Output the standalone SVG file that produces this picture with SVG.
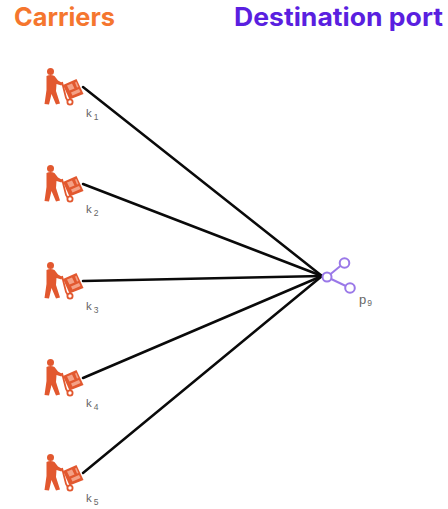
<svg xmlns="http://www.w3.org/2000/svg" width="448" height="509" viewBox="0 0 448 509">
<style>
.title{font-family:"Inter","Liberation Sans",sans-serif;font-weight:700;font-size:25.500px}
.lbl{font-family:"Liberation Sans",sans-serif;font-size:11.500px;fill:#666}
.sub{font-size:8.500px}
.edge{stroke:#0a0a0a;stroke-width:2.500;fill:none;stroke-linecap:round}
.port{stroke:#9a78e8;stroke-width:2;fill:#fff}
</style>
<defs>
<g id="carrier">
<circle cx="50.500" cy="71.500" r="3.500" fill="#e2582f"/>
<path d="M46.500 76 Q50.500 74 54.500 76 L58 80.500 L62.500 83 L61.500 85.500 L56.500 84 L56 91 L60 103.500 L56 104.500 L51.500 94 L49 104.500 L44.500 104 L46.500 90 Z" fill="#e2582f"/>
<path d="M62 82 L66 98 L69 103" fill="none" stroke="#e2582f" stroke-width="1.800"/>
<circle cx="70" cy="102" r="2.600" fill="#fff" stroke="#e2582f" stroke-width="1.800"/>
<path d="M63 85 L76.500 79 L83.500 94 L69.500 99.500 Z" fill="#e2582f"/>
<path d="M67 85.500 L72 83.500 L74.500 88.500 L69.500 90.500 Z M75 82.500 L76.500 82 L78.500 87 L77 87.500 Z M71 92.500 L79 89 L80.500 92 L72.500 95.500 Z" fill="#f4a186"/>
</g>
</defs>
<g id="titles">
<text class="title" x="14" y="26" fill="#f5762e" textLength="101" lengthAdjust="spacingAndGlyphs">Carriers</text>
<text class="title" x="234" y="26" fill="#5a1fe0" textLength="209" lengthAdjust="spacingAndGlyphs">Destination port</text>
</g>
<g id="connectors">
<line class="edge" x1="83" y1="87" x2="322" y2="276"/>
<line class="edge" x1="83" y1="184" x2="322" y2="276"/>
<line class="edge" x1="83" y1="281" x2="322" y2="276"/>
<line class="edge" x1="83" y1="378" x2="322" y2="276"/>
<line class="edge" x1="83" y1="473" x2="322" y2="276"/>
</g>
<g id="k1"><use href="#carrier"/><text class="lbl" x="86" y="117">k<tspan class="sub" dx="2" dy="3">1</tspan></text></g>
<g id="k2"><use href="#carrier" y="97"/><text class="lbl" x="86" y="213">k<tspan class="sub" dx="2" dy="3">2</tspan></text></g>
<g id="k3"><use href="#carrier" y="194"/><text class="lbl" x="86" y="310">k<tspan class="sub" dx="2" dy="3">3</tspan></text></g>
<g id="k4"><use href="#carrier" y="291"/><text class="lbl" x="86" y="407">k<tspan class="sub" dx="2" dy="3">4</tspan></text></g>
<g id="k5"><use href="#carrier" y="386"/><text class="lbl" x="86" y="502">k<tspan class="sub" dx="2" dy="3">5</tspan></text></g>
<g id="p9">
<line class="port" x1="327" y1="277" x2="344" y2="263"/>
<line class="port" x1="327" y1="277" x2="350" y2="288"/>
<circle class="port" cx="327" cy="277" r="4.500"/>
<circle class="port" cx="344.500" cy="263" r="4.800"/>
<circle class="port" cx="350" cy="288" r="4.800"/>
<text class="lbl" x="359" y="304" style="font-size:13px">p<tspan class="sub" dx="1" dy="2">9</tspan></text>
</g>
</svg>
